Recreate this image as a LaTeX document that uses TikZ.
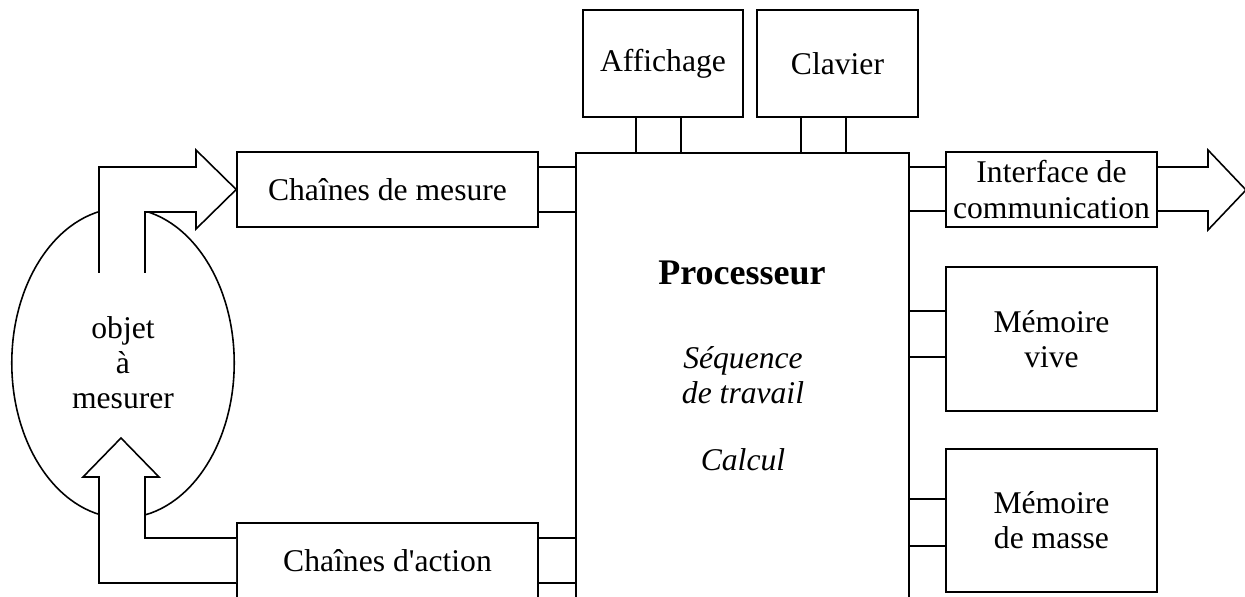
\documentclass[tikz,border=0pt]{standalone}
\usepackage{fontspec}
\setmainfont{Liberation Serif}
\usetikzlibrary{shapes.geometric}

\begin{document}
\begin{tikzpicture}[x=0.02cm,y=-0.02cm,line width=0.9pt,line join=miter,
 bx/.style={draw,fill=white,align=center,font=\fontsize{18}{20}\selectfont},
 lbl/.style={align=center,font=\fontsize{18}{20}\selectfont}]
\useasboundingbox (0,0) rectangle (1245,597);
% blocks
\node[bx,minimum width=6.66cm,minimum height=8.9cm] (proc) at (742.5,375.5) {};
\node[bx,minimum width=3.2cm,minimum height=2.14cm] (aff) at (663,63.5) {Affichage};
\node[bx,minimum width=3.22cm,minimum height=2.14cm] (clav) at (837.5,63.5) {Clavier};
\node[bx,minimum width=6.02cm,minimum height=1.5cm] (mes) at (387.5,189.5) {Chaînes de mesure};
\node[bx,minimum width=6.02cm,minimum height=1.5cm] (act) at (387.5,560.5) {Chaînes d\textquotesingle action};
\node[bx,minimum width=4.22cm,minimum height=1.5cm,inner sep=0pt] (iface) at (1051.5,189.5) {Interface de\\communication};
\node[bx,minimum width=4.22cm,minimum height=2.88cm] (vive) at (1051.5,339) {Mémoire\\vive};
\node[bx,minimum width=4.22cm,minimum height=2.86cm] (masse) at (1051.5,520.5) {Mémoire\\de masse};
\node[draw,ellipse,inner sep=0pt,minimum width=4.45cm,minimum height=6.2cm,lbl] (obj) at (123,363) {objet\\à\\mesurer};
% texts in the processor
\node[font=\bfseries\fontsize{20.5}{24}\selectfont] (ptitle) at (742,273) {Processeur};
\node[lbl,font=\itshape\fontsize{18}{20}\selectfont] (pseq) at (743,375) {Séquence\\de travail};
\node[lbl,font=\itshape\fontsize{18}{20}\selectfont] (pcalc) at (743,460) {Calcul};
% buses
\foreach \xx in {636,681} \draw (aff.south -| \xx,0) -- (proc.north -| \xx,0);
\foreach \xx in {801,846} \draw (clav.south -| \xx,0) -- (proc.north -| \xx,0);
\foreach \yy in {167,212} \draw (mes.east |- 0,\yy) -- (proc.west |- 0,\yy);
\foreach \yy in {538,583} \draw (act.east |- 0,\yy) -- (proc.west |- 0,\yy);
\foreach \yy in {167,211} \draw (proc.east |- 0,\yy) -- (iface.west |- 0,\yy);
\foreach \yy in {311,357} \draw (proc.east |- 0,\yy) -- (vive.west |- 0,\yy);
\foreach \yy in {499,546} \draw (proc.east |- 0,\yy) -- (masse.west |- 0,\yy);
% block arrows
\fill[white] (99,273) -- (99,167) -- (196,167) -- (196,150) -- (mes.west) -- (196,229) -- (196,212) -- (145,212) -- (145,273) -- cycle;
\draw (99,273) -- (99,167) -- (196,167) -- (196,150) -- (mes.west) -- (196,229) -- (196,212) -- (145,212) -- (145,273);
\fill[white] (act.west |- 0,583) -- (99,583) -- (99,477) -- (83,477) -- (121,438) -- (159,477) -- (145,477) -- (145,538) -- (act.west |- 0,538) -- cycle;
\draw (act.west |- 0,583) -- (99,583) -- (99,477) -- (83,477) -- (121,438) -- (159,477) -- (145,477) -- (145,538) -- (act.west |- 0,538);
\draw (iface.east |- 0,167) -- (1208,167) -- (1208,150) -- (1246,190) -- (1208,230) -- (1208,211) -- (iface.east |- 0,211);
\end{tikzpicture}
\end{document}
